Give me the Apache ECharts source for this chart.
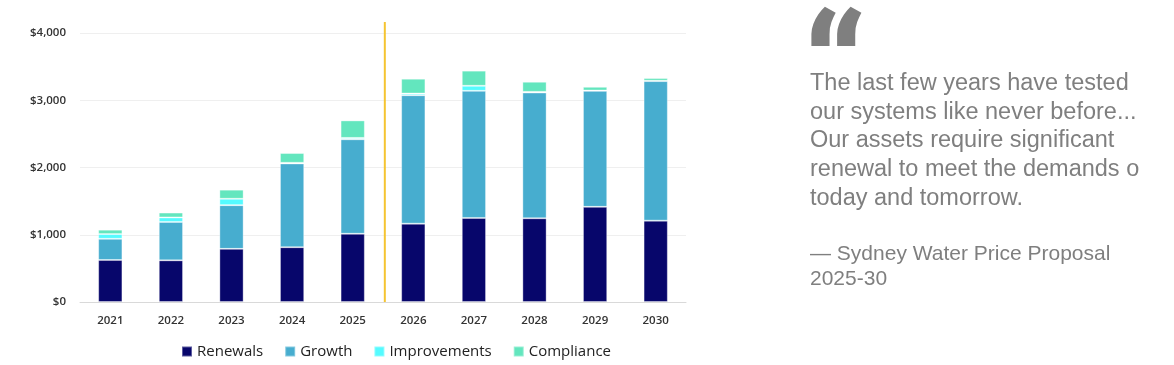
<!DOCTYPE html>
<html><head><meta charset="utf-8">
<script src="https://cdn.jsdelivr.net/npm/echarts@6/dist/echarts.min.js"></script>
<style>html,body{margin:0;padding:0;background:#fff}#c{width:1174px;height:365px}</style>
</head><body><div id="c"></div>
<script>
const years = ['2021','2022','2023','2024','2025','2026','2027','2028','2029','2030'];
const renewals =     [625, 620, 790, 815, 1015, 1165, 1250, 1245, 1415, 1210];
const growth =       [315, 570, 650, 1245, 1405, 1910, 1890, 1870, 1725, 2075];
const improvements = [70, 67, 95, 10, 20, 25, 75, 10, 5, 5];
const compliance =   [65, 73, 135, 145, 260, 220, 225, 150, 55, 40];
const yTicks = [0, 1000, 2000, 3000, 4000];
const dividerAt = 4.53; // boundary between 2025 and 2026
const dividerTop = 4163;
const quoteLines = ['The last few years have tested','our systems like never before...','Our assets require significant','renewal to meet the demands of','today and tomorrow.'];
const sourceLines = ['\u2014 Sydney Water Price Proposal','2025-30'];

const colors = {Renewals:'#07066B', Growth:'#47ADCF', Improvements:'#55FBFF', Compliance:'#63E6BE'};
const font = '"Open Sans", sans-serif';
function barSeries(name, data){
  return {name, type:'bar', stack:'t', data, barWidth:'40%',
    itemStyle:{color:colors[name], borderColor:'rgba(255,255,255,0.35)', borderWidth:1}};
}
const chart = echarts.init(document.getElementById('c'));
chart.setOption({
  animation:false,
  grid:{left:80, right:488, top:33, bottom:63},
  legend:{data:['Renewals','Growth','Improvements','Compliance'], left:181, top:344, padding:0, itemWidth:10, itemHeight:10, itemGap:21,
    icon:'rect', textStyle:{fontFamily:font, fontSize:15, color:'#222'}},
  xAxis:[{type:'category', data:years, axisTick:{show:false},
    axisLine:{lineStyle:{color:'#d9d9d9'}},
    axisLabel:{fontFamily:font, fontSize:11.5, fontWeight:600, color:'#333', margin:13}},
    {type:'value', min:-0.5, max:9.5, show:false}],
  yAxis:{type:'value', min:yTicks[0], max:yTicks[yTicks.length-1], interval:1000,
    axisLine:{show:false}, axisTick:{show:false},
    splitLine:{lineStyle:{color:'#efefef'}},
    axisLabel:{fontFamily:font, fontSize:11.5, fontWeight:600, color:'#333', margin:14,
      formatter:v=>'$'+v.toLocaleString('en-US')}},
  series:[barSeries('Renewals',renewals), barSeries('Growth',growth), barSeries('Improvements',improvements), barSeries('Compliance',compliance),
    {name:'divider', type:'line', xAxisIndex:1, data:[[dividerAt,0],[dividerAt,dividerTop]], clip:false, symbol:'none',
      lineStyle:{color:'#F5C431', width:2}, silent:true}],
  graphic:[
    {type:'text', left:803, top:10, style:{text:'\u201C', font:'900 150px Roboto', fill:'#7f7f7f'}},
    {type:'text', left:810, top:69, style:{text:quoteLines.join('\n'), font:'23.5px "Liberation Sans"', fill:'#7f7f7f', lineHeight:28.7,
      width:335, overflow:'truncate', ellipsis:''}},
    {type:'text', left:810, top:242, style:{text:sourceLines.join('\n'), font:'21px "Liberation Sans"', fill:'#7f7f7f', lineHeight:24.5}}
  ]
});
</script></body></html>
